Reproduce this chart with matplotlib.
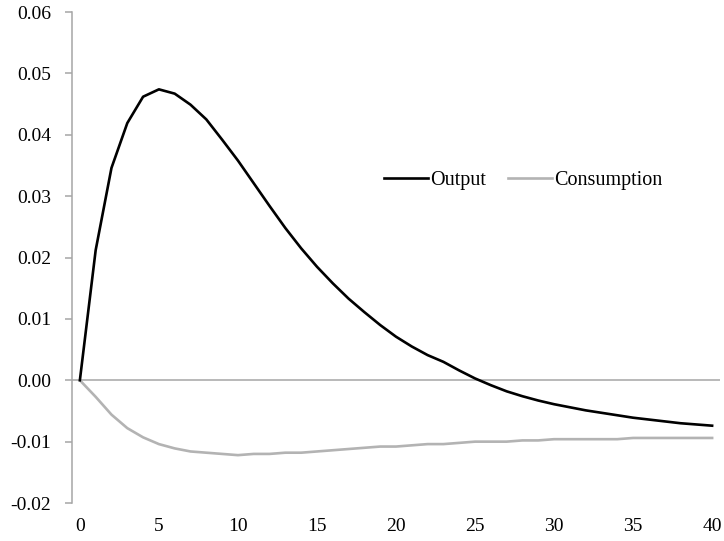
import numpy as np
import matplotlib
matplotlib.use("Agg")
import matplotlib.pyplot as plt

plt.rcParams['font.family'] = ['Liberation Serif', 'DejaVu Serif']

periods = list(range(41))

output = [0.0, 0.0212, 0.0346, 0.0419, 0.0462, 0.0474, 0.0467, 0.0449, 0.0425, 0.0392,
          0.0358, 0.0321, 0.0284, 0.0248, 0.0215, 0.0185, 0.0158, 0.0133, 0.0111, 0.0090,
          0.0071, 0.0055, 0.0041, 0.0030, 0.0016, 0.0003, -0.0008, -0.0018, -0.0026, -0.0033,
          -0.0039, -0.0044, -0.0049, -0.0053, -0.0057, -0.0061, -0.0064, -0.0067, -0.0070, -0.0072,
          -0.0074]

consumption = [0.0, -0.0027, -0.0056, -0.0078, -0.0093, -0.0104, -0.0111, -0.0116, -0.0118, -0.0120,
               -0.0122, -0.0120, -0.0120, -0.0118, -0.0118, -0.0116, -0.0114, -0.0112, -0.0110, -0.0108,
               -0.0108, -0.0106, -0.0104, -0.0104, -0.0102, -0.0100, -0.0100, -0.0100, -0.0098, -0.0098,
               -0.0096, -0.0096, -0.0096, -0.0096, -0.0096, -0.0094, -0.0094, -0.0094, -0.0094, -0.0094,
               -0.0094]

xticks = [0, 5, 10, 15, 20, 25, 30, 35, 40]
yticks = [-0.02, -0.01, 0.0, 0.01, 0.02, 0.03, 0.04, 0.05, 0.06]

fig = plt.figure(figsize=(7.24, 5.41), dpi=100)
ax = fig.add_axes([0.0994, 0.0702, 0.8951, 0.9076])

ax.axhline(0, color="#a6a6a6", lw=1.1, zorder=1)
ax.plot(periods, output, color="black", lw=1.9, label="Output", zorder=3)
ax.plot(periods, consumption, color="#b3b3b3", lw=1.9, label="Consumption", zorder=2)

ax.set_xlim(-0.5, 40.5)
ax.set_ylim(-0.02, 0.06)
ax.set_xticks(xticks)
ax.set_yticks(yticks)
ax.set_yticklabels(["%.2f" % v for v in yticks])

for s in ["top", "right", "bottom"]:
    ax.spines[s].set_visible(False)
ax.spines["left"].set_color("#a6a6a6")
ax.spines["left"].set_linewidth(1.1)

ax.tick_params(axis="y", direction="out", length=5, color="#a6a6a6", width=1.1,
               labelsize=14, pad=10)
ax.tick_params(axis="x", length=0, labelsize=14, pad=11)

ax.legend(loc="center", bbox_to_anchor=(0.696, 0.656), ncol=2, frameon=False,
          fontsize=14.5, handlelength=2.2, handletextpad=0.1, columnspacing=1.1)

fig.savefig("out.png", dpi=100)
